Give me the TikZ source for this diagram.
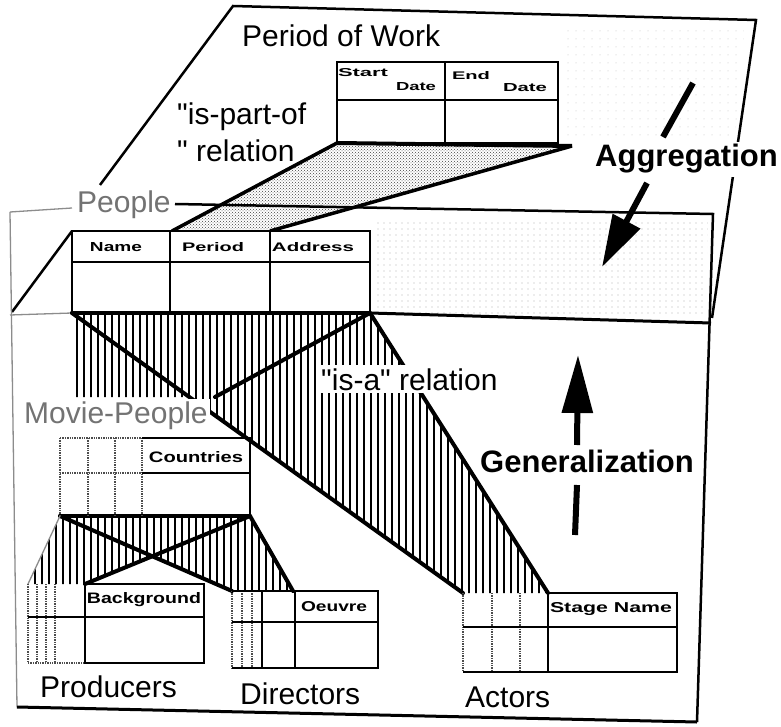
\documentclass[tikz,border=0pt]{standalone}
\usepackage{fontspec}
\setmainfont{Liberation Sans}
\newfontfamily\qfont{Liberation Sans}
\usepackage{graphicx}
\usetikzlibrary{patterns,patterns.meta,arrows.meta}
\def\lblsize{\fontsize{30}{30}\selectfont}
\def\hdr#1#2#3{\resizebox{#1}{#2}{\bfseries #3}}
\def\qq{{\qfont\symbol{34}}}

\tikzset{
	plane/.style={line width=2.5pt},
	faint/.style={line width=1.3pt, black!45},
	tbl/.style={line width=2.2pt},
	inh/.style={line width=1.4pt, densely dotted, black!70},
	band/.style={pattern={Lines[angle=90,distance=7pt,line width=2.2pt]}},
	bandedge/.style={line width=4pt, line cap=round},
	lbl/.style={font=\lblsize, inner sep=0pt, anchor=base west},
	blbl/.style={font=\fontsize{31}{31}\selectfont\bfseries, inner sep=0pt, anchor=base west},
	fat/.style={line width=6pt},
}

\begin{document}
\begin{tikzpicture}[x=1pt,y=-1pt]
			%%%%% START %%%%%
			\useasboundingbox[fill=white] (0,0) rectangle (781,727);
			
			% light shading of the planes
			\fill[pattern={Dots[distance=6pt,radius=0.55pt]}, pattern color=black!30] (374,218) -- (708,220) -- (706,314) -- (374,314) -- cycle;
			\fill[pattern={Dots[distance=8pt,radius=0.5pt]}, pattern color=black!25] (562,24) -- (745,26) -- (735,140) -- (562,140) -- cycle;
			
			% Period of Work plane
			\draw[plane] (100,185) -- (233,6) -- (756,20) -- (712,318);
			\draw[plane] (72,231) -- (12,312);
			
			\coordinate (pw-bl) at (337,143);
			\coordinate (pw-br) at (572,146);
			\draw[tbl, fill=white] (337,62) rectangle (558,143);
			\draw[tbl] (337,100) -- (558,100);
			\draw[tbl] (445,62) -- (445,143);
			\node (h-start) at (363,73) {\hdr{50pt}{8pt}{Start}};
			\node (h-date1) at (416,87) {\hdr{40pt}{8pt}{Date}};
			\node (h-end) at (471,76) {\hdr{38pt}{8pt}{End}};
			\node (h-date2) at (525,88) {\hdr{44pt}{8pt}{Date}};
			
			% is-part-of
			\coordinate (pe-a) at (172,231);
			\coordinate (pe-b) at (270,231);
			\fill[pattern=crosshatch dots, pattern color=black!75] (pw-bl) -- (pw-br) -- (pe-b) -- (pe-a) -- cycle;
			\draw[line width=3.5pt] (pw-bl) -- (pe-a);
			\draw[line width=3.5pt] (pw-br) -- (pe-b);
			\draw[line width=4pt] (pw-bl) -- (pw-br);
			
			% People plane and frame
			\draw[faint] (10,212) -- (72,208);
			\draw[plane] (175,204) -- (713,214) -- (697,722);
			\draw[faint] (10,212) -- (17,707);
			\draw[line width=3pt] (17,707) -- (697,722);
			\draw[faint] (10,315) -- (72,313);
			\draw[line width=3pt] (370,313) -- (711,323);
			
			\draw[tbl, fill=white] (72,231) rectangle (370,312);
			\draw[tbl] (72,262) -- (370,262);
			\draw[tbl] (170,231) -- (170,312);
			\draw[tbl] (270,231) -- (270,312);
			\node (h-name) at (116,247) {\hdr{52pt}{9pt}{Name}};
			\node (h-period) at (213,247) {\hdr{62pt}{9pt}{Period}};
			\node (h-addr) at (313,247) {\hdr{82pt}{9pt}{Address}};
			
			% is-a bands
			\coordinate (pt-l) at (72,313);
			\coordinate (pt-r) at (370,313);
			\coordinate (mp-l) at (60,516);
			\coordinate (mp-r) at (250,516);
			\fill[band] (pt-l) -- (pt-r) -- (548,593) -- (463,593) -- cycle;
			\fill[band] (pt-l) -- (pt-r) -- (215,397) -- (72,397) -- cycle;
			\fill[band] (mp-l) -- (mp-r) -- (85,584) -- (28,584) -- cycle;
			\fill[band] (mp-l) -- (mp-r) -- (293,591) -- (232,591) -- cycle;
			\draw[bandedge] (pt-l) -- (pt-r);
			\draw[bandedge] (pt-l) -- (463,593);
			\draw[bandedge] (pt-r) -- (548,593);
			\draw[bandedge] (pt-r) -- (215,397);
			\draw[bandedge] (mp-l) -- (mp-r);
			\draw[bandedge] (mp-l) -- (232,591);
			\draw[bandedge] (mp-r) -- (85,584);
			\draw[bandedge] (mp-r) -- (293,591);
			\draw[faint] (mp-l) -- (28,584);
			
			\node[lbl, fill=white, inner sep=3pt] (isa) at (318,390) {\qq is-a\qq{} relation};
			\node[lbl, fill=white, inner sep=2pt, text=black!55] (mvp) at (22,423) {Movie-People};
			\node[lbl, fill=white, inner sep=2pt, text=black!55] (ppl) at (75,213) {People};
			
			% Movie-People table
			\draw[inh] (60,438) -- (142,438) (60,473) -- (142,473);
			\draw[inh] (60,438) -- (60,515) (88,438) -- (88,515) (115,438) -- (115,515) (142,438) -- (142,515);
			\draw[tbl] (142,438) -- (250,438) -- (250,515);
			\draw[tbl] (142,473) -- (250,473);
			\node (h-ctry) at (196,457) {\hdr{94pt}{11pt}{Countries}};
			
			% Producers
			\draw[inh] (28,584) -- (28,663) (37,584) -- (37,663) (46,584) -- (46,663) (55,584) -- (55,663);
			\draw[inh] (28,663) -- (85,663);
			\draw[tbl] (85,584) -- (204,584) -- (204,663) -- (85,663) -- cycle;
			\draw[tbl] (28,617) -- (204,617);
			\node (h-bg) at (144,600) {\hdr{114pt}{11pt}{Background}};
			
			% Directors
			\draw[inh] (232,591) -- (232,668) (242,591) -- (242,668) (252,591) -- (252,668);
			\draw[tbl] (232,591) -- (378,591) -- (378,668) -- (232,668);
			\draw[tbl] (232,622) -- (378,622);
			\draw[tbl] (262,591) -- (262,668);
			\draw[tbl] (295,591) -- (295,668);
			\node (h-oeuvre) at (334,607) {\hdr{66pt}{10pt}{Oeuvre}};
			
			% Actors
			\draw[inh] (463,593) -- (463,672) (492,593) -- (492,672) (520,593) -- (520,672);
			\draw[tbl] (548,593) -- (677,593) -- (677,672) -- (463,672);
			\draw[tbl] (463,627) -- (677,627);
			\draw[tbl] (548,593) -- (548,672);
			\node (h-stage) at (611,609) {\hdr{122pt}{10pt}{Stage Name}};
			
			% labels
			\node[lbl] (pow) at (242,47) {Period of Work};
			\node[lbl] (ipo1) at (177,125) {\qq is-part-of};
			\node[lbl] (ipo2) at (177,162) {\qq{} relation};
			\node[lbl] (prod) at (40,697) {Producers};
			\node[lbl] (dir) at (240,704) {Directors};
			\node[lbl] (act) at (465,707) {Actors};
			\node[blbl, fill=white, inner sep=3pt] (agg) at (592,167) {Aggregation};
			\node[blbl] (gen) at (480,472) {Generalization};
			
			% arrows
			\coordinate (agg-a) at (693,83);
			\coordinate (agg-b) at (663,137);
			\coordinate (agg-c) at (647,183);
			\coordinate (agg-tip) at (602,267);
			\draw[fat] (agg-a) -- (agg-b);
			\draw[fat, -{Triangle[length=52pt,width=30pt]}] (agg-c) -- (agg-tip);
			
			\coordinate (gen-a) at (577,445);
			\coordinate (gen-tip) at (578,355);
			\coordinate (gen-b) at (577,485);
			\coordinate (gen-c) at (575,535);
			\draw[fat, -{Triangle[length=58pt,width=30pt]}] (gen-a) -- (gen-tip);
			\draw[fat] (gen-b) -- (gen-c);
			%%%%% END %%%%%
\end{tikzpicture}
\end{document}
